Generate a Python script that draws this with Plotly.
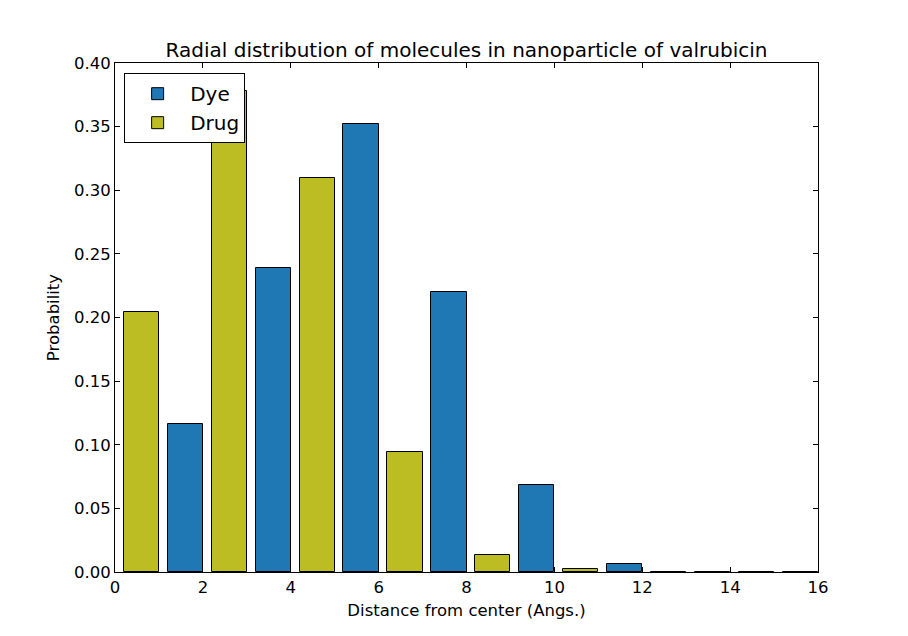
import plotly.graph_objects as go

# histogram bins (left edge) and probabilities
drug_bins = [0, 2, 4, 6, 8, 10, 12, 14]
drug_prob = [0.204, 0.378, 0.310, 0.094, 0.013, 0.002, 0.0, 0.0]

dye_bins = [1, 3, 5, 7, 9, 11, 13, 15]
dye_prob = [0.116, 0.239, 0.352, 0.220, 0.068, 0.006, 0.0, 0.0]

x_ticks = [0, 2, 4, 6, 8, 10, 12, 14, 16]
y_ticks = [0.0, 0.05, 0.10, 0.15, 0.20, 0.25, 0.30, 0.35, 0.40]

FONT = "DejaVu Sans"

fig = go.Figure()

fig.add_trace(go.Bar(
    x=dye_bins, y=dye_prob, name="Dye",
    offset=0.2, width=0.8,
    marker=dict(color="#1f77b4", line=dict(color="black", width=1)),
))
fig.add_trace(go.Bar(
    x=drug_bins, y=drug_prob, name="Drug",
    offset=0.2, width=0.8,
    marker=dict(color="#bcbd22", line=dict(color="black", width=1)),
))

axis_style = dict(
    showline=True, linecolor="black", linewidth=1, mirror="ticks",
    ticks="inside", ticklen=5, tickcolor="black", tickwidth=1,
    showgrid=False, zeroline=False,
    tickfont=dict(family=FONT, size=16.5, color="black"),
)

fig.update_layout(
    width=908, height=636,
    margin=dict(l=115, r=90, t=63, b=64),
    paper_bgcolor="white", plot_bgcolor="white",
    barmode="overlay",
    font=dict(family=FONT, color="black"),
    title=dict(
        text="Radial distribution of molecules in nanoparticle of valrubicin",
        font=dict(family=FONT, size=20, color="black"),
        x=0.5, xanchor="center", xref="paper",
        y=(636 - 50) / 636, yanchor="middle", yref="container",
    ),
    xaxis=dict(
        range=[0, 16], tickvals=x_ticks, ticktext=[str(t) for t in x_ticks],
        title=dict(text="Distance from center (Angs.)",
                   font=dict(family=FONT, size=16.5), standoff=8),
        **axis_style,
    ),
    yaxis=dict(
        range=[0, 0.40], tickvals=y_ticks, ticktext=[f"{t:.2f}" for t in y_ticks],
        title=dict(text="Probability", font=dict(family=FONT, size=16.5), standoff=10),
        **axis_style,
    ),
    legend=dict(
        x=0.013, y=0.98, xanchor="left", yanchor="top",
        bgcolor="white", bordercolor="black", borderwidth=1,
        font=dict(family=FONT, size=20, color="black"),
        itemwidth=55, tracegroupgap=0,
    ),
    bargap=0,
)

# drop the default page margin so the figure sits at the window's corner
fig.write_html("out.html",
               config={"displayModeBar": False},
               post_script="document.body.style.margin='0';")
